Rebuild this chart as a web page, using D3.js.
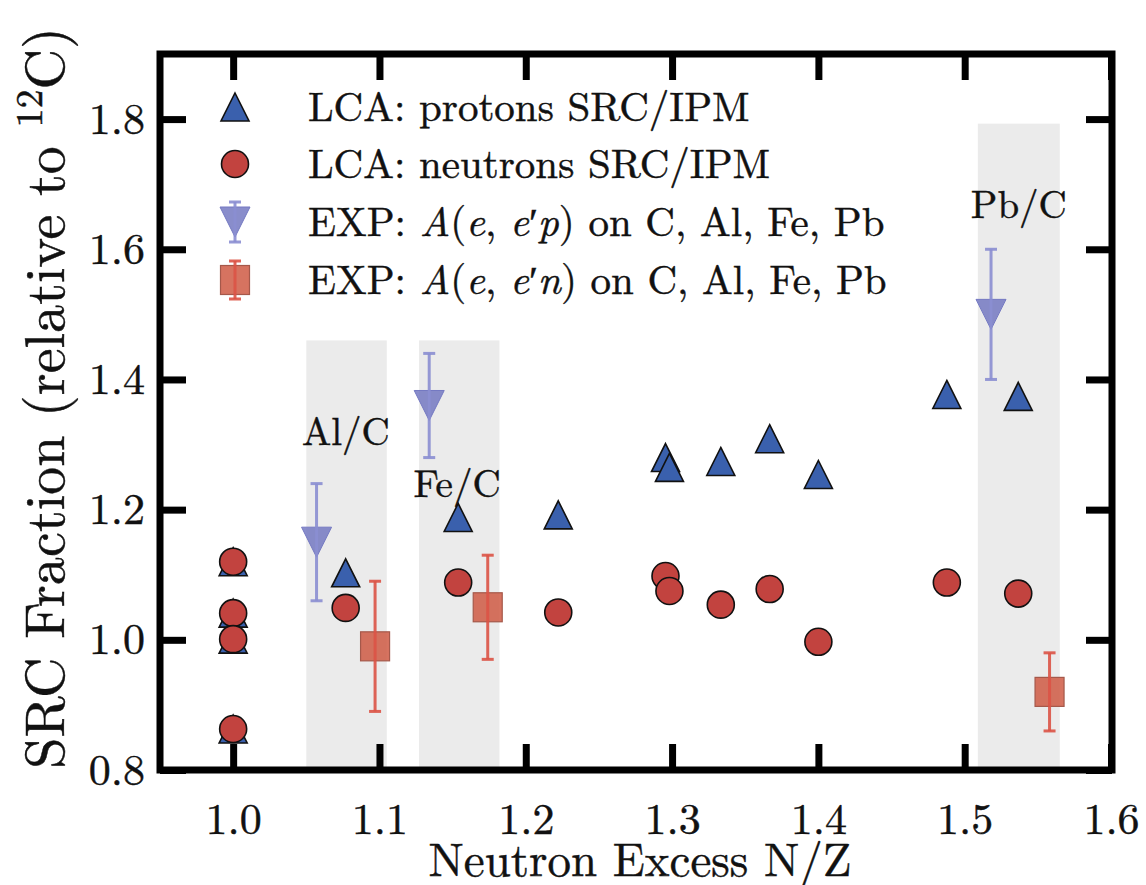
<!DOCTYPE html>
<html>
<head>
<meta charset="utf-8">
<script src="https://cdn.jsdelivr.net/npm/d3@7"></script>
<style>
  html, body { margin: 0; padding: 0; background: #fff; }
  svg { display: block; }
</style>
</head>
<body>
<svg id="chart" width="1146" height="885"></svg>
<script>
// ---------------- data ----------------
const xTicks = [1.0, 1.1, 1.2, 1.3, 1.4, 1.5, 1.6];
const yTicks = [0.8, 1.0, 1.2, 1.4, 1.6, 1.8];

// LCA calculations (N/Z of the nucleus)
const lcaNZ      = [1.0, 1.0, 1.0, 1.0, 1.0769, 1.1538, 1.2222, 1.2955, 1.2982, 1.3333, 1.3667, 1.4, 1.4878, 1.5366];
const lcaProtons = [1.120, 1.041, 1.001, 0.863, 1.103, 1.188, 1.192, 1.280, 1.265, 1.274, 1.309, 1.254, 1.377, 1.374];
const lcaNeutrons= [1.120, 1.041, 1.001, 0.863, 1.049, 1.088, 1.042, 1.098, 1.075, 1.054, 1.078, 0.997, 1.088, 1.071];

// Experimental ratios
const expPNZ  = [1.057, 1.134, 1.518];
const expPVal = [1.15, 1.36, 1.50];
const expPErr = [0.09, 0.08, 0.10];
const expNNZ  = [1.097, 1.174, 1.558];
const expNVal = [0.99, 1.05, 0.92];
const expNErr = [0.10, 0.08, 0.06];

// Shaded bands and their labels
const bandNames = ["Al/C", "Fe/C", "Pb/C"];
const bandLo    = [1.050, 1.127, 1.509];
const bandHi    = [1.105, 1.182, 1.565];
const bandTop   = [1.46, 1.46, 1.793];
const labelNZ   = [1.077, 1.153, 1.537];
const labelVal  = [1.300, 1.219, 1.648];

const legendLabels = [
  [{t: "LCA: protons SRC/IPM"}],
  [{t: "LCA: neutrons SRC/IPM"}],
  [{t: "EXP: "}, {t: "A", i: 1}, {t: "("}, {t: "e", i: 1}, {t: ", "}, {t: "e", i: 1}, {t: "′"}, {t: "p", i: 1}, {t: ")"}, {t: " on C, Al, Fe, Pb"}],
  [{t: "EXP: "}, {t: "A", i: 1}, {t: "("}, {t: "e", i: 1}, {t: ", "}, {t: "e", i: 1}, {t: "′"}, {t: "n", i: 1}, {t: ")"}, {t: " on C, Al, Fe, Pb"}]
];

// ---------------- style ----------------
const FONT = "'Latin Modern Roman', 'Liberation Serif', serif";
const C_BLUE = "#3a60ad", C_RED = "#c2433f";
const C_EXPP = "#7479c2", C_EXPP_BAR = "#8b8fd2";
const C_EXPN = "#cf5a44", C_EXPN_BAR = "#dc5446";
const C_BAND = "#ebebeb";

const svg = d3.select("#chart");
const L = 160, R = 1112, T = 54, B = 770;
const x = d3.scaleLinear().domain([0.95, 1.6]).range([L, R - 1]);
const y = d3.scaleLinear().domain([0.8, 1.9]).range([B, T]);

function txt(sel, size) {
  return sel.style("font-family", FONT).style("font-size", size + "px")
    .style("fill", "#111").style("stroke", "#111").style("stroke-width", "0.45px");
}

// bands
const bands = svg.append("g");
bandNames.forEach((n, i) => {
  bands.append("rect")
    .attr("x", x(bandLo[i])).attr("width", x(bandHi[i]) - x(bandLo[i]))
    .attr("y", y(bandTop[i])).attr("height", y(0.8) - y(bandTop[i]))
    .attr("fill", C_BAND);
});
bandNames.forEach((n, i) => {
  txt(svg.append("text").attr("x", x(labelNZ[i])).attr("y", y(labelVal[i]))
    .attr("text-anchor", "middle"), 39).text(n);
});

// marker shapes
const M = 28;
function triUp(s) { return `M0,${-s/2}L${s/2},${s/2}L${-s/2},${s/2}Z`; }
function triDown(s) { return `M0,${s/2}L${s/2},${-s/2}L${-s/2},${-s/2}Z`; }

function drawErr(g, cx, lo, hi, color) {
  g.append("line").attr("x1", cx).attr("x2", cx).attr("y1", lo).attr("y2", hi)
    .attr("stroke", color).attr("stroke-width", 3).attr("opacity", 0.9);
  [lo, hi].forEach(v => g.append("line").attr("x1", cx - 6).attr("x2", cx + 6)
    .attr("y1", v).attr("y2", v).attr("stroke", color).attr("stroke-width", 3).attr("opacity", 0.9));
}

// LCA points
const pts = svg.append("g");
lcaNZ.forEach((nz, i) => {
  pts.append("path").attr("d", triUp(M))
    .attr("transform", `translate(${x(nz)},${y(lcaProtons[i])})`)
    .attr("fill", C_BLUE).attr("stroke", "#111").attr("stroke-width", 1.6);
});
lcaNZ.forEach((nz, i) => {
  pts.append("circle").attr("cx", x(nz)).attr("cy", y(lcaNeutrons[i])).attr("r", M/2 - 0.5)
    .attr("fill", C_RED).attr("stroke", "#111").attr("stroke-width", 1.6);
});

// EXP points
const ex = svg.append("g");
expPNZ.forEach((nz, i) => {
  const g = ex.append("g");
  g.append("path").attr("d", triDown(30))
    .attr("transform", `translate(${x(nz)},${y(expPVal[i])})`)
    .attr("fill", C_EXPP).attr("fill-opacity", 0.85).attr("stroke", C_EXPP).attr("stroke-width", 1);
  drawErr(g, x(nz), y(expPVal[i] - expPErr[i]), y(expPVal[i] + expPErr[i]), C_EXPP_BAR);
});
expNNZ.forEach((nz, i) => {
  const g = ex.append("g");
  g.append("rect").attr("x", x(nz) - 14.5).attr("y", y(expNVal[i]) - 14.5)
    .attr("width", 29).attr("height", 29)
    .attr("fill", C_EXPN).attr("fill-opacity", 0.85).attr("stroke", "#a5584a").attr("stroke-width", 1.2);
  drawErr(g, x(nz), y(expNVal[i] - expNErr[i]), y(expNVal[i] + expNErr[i]), C_EXPN_BAR);
});

// axes (inward ticks on all four sides)
const TK = 26;
function styleAxis(g) {
  g.select(".domain").remove();
  g.selectAll(".tick line").attr("stroke", "#000").attr("stroke-width", 7);
}
svg.append("g").attr("transform", `translate(0,${B})`)
  .call(d3.axisBottom(x).tickValues(xTicks).tickFormat(d3.format(".1f")).tickSizeInner(-TK).tickSizeOuter(0).tickPadding(33))
  .call(styleAxis)
  .selectAll("text").call(s => txt(s, 44));
svg.append("g").attr("transform", `translate(0,${T})`)
  .call(d3.axisTop(x).tickValues(xTicks).tickFormat("").tickSizeInner(-TK).tickSizeOuter(0))
  .call(styleAxis);
svg.append("g").attr("transform", `translate(${L},0)`)
  .call(d3.axisLeft(y).tickValues(yTicks).tickFormat(d3.format(".1f")).tickSizeInner(-TK).tickSizeOuter(0).tickPadding(15))
  .call(styleAxis)
  .selectAll("text").call(s => txt(s, 44));
svg.append("g").attr("transform", `translate(${R},0)`)
  .call(d3.axisRight(y).tickValues(yTicks).tickFormat("").tickSizeInner(-TK).tickSizeOuter(0))
  .call(styleAxis);

// frame
svg.append("rect").attr("x", L).attr("y", T).attr("width", R - L).attr("height", B - T)
  .attr("fill", "none").attr("stroke", "#000").attr("stroke-width", 7);

// axis titles
txt(svg.append("text").attr("x", 640).attr("y", 876).attr("text-anchor", "middle"), 47)
  .text("Neutron Excess N/Z");
const yt = txt(svg.append("text").attr("transform", "translate(64,398) rotate(-90)")
  .attr("text-anchor", "middle"), 56);
yt.append("tspan").text("SRC Fraction (relative to ");
yt.append("tspan").style("font-size", "38px").attr("dy", -22).text("12");
yt.append("tspan").attr("dy", 22).text("C)");

// legend
const lg = svg.append("g");
const rowsY = [107, 164, 222, 280];
const mx = 235, tx = 308;
lg.append("path").attr("d", triUp(M)).attr("transform", `translate(${mx},${rowsY[0]})`)
  .attr("fill", C_BLUE).attr("stroke", "#111").attr("stroke-width", 1.6);
lg.append("circle").attr("cx", mx).attr("cy", rowsY[1]).attr("r", M/2 - 0.5)
  .attr("fill", C_RED).attr("stroke", "#111").attr("stroke-width", 1.6);
{
  const g = lg.append("g");
  g.append("path").attr("d", triDown(30)).attr("transform", `translate(${mx},${rowsY[2]})`)
    .attr("fill", C_EXPP).attr("fill-opacity", 0.85).attr("stroke", C_EXPP).attr("stroke-width", 1);
  drawErr(g, mx, rowsY[2] + 20, rowsY[2] - 20, C_EXPP_BAR);
}
{
  const g = lg.append("g");
  g.append("rect").attr("x", mx - 14.5).attr("y", rowsY[3] - 14.5).attr("width", 29).attr("height", 29)
    .attr("fill", C_EXPN).attr("fill-opacity", 0.85).attr("stroke", "#a5584a").attr("stroke-width", 1.2);
  drawErr(g, mx, rowsY[3] + 19, rowsY[3] - 19, C_EXPN_BAR);
}
legendLabels.forEach((parts, i) => {
  const t = txt(lg.append("text").attr("x", tx).attr("y", rowsY[i]).attr("dy", "0.35em"), 41);
  parts.forEach(p => {
    const s = t.append("tspan").text(p.t);
    if (p.i) s.style("font-style", "italic");
  });
});
</script>
</body>
</html>
